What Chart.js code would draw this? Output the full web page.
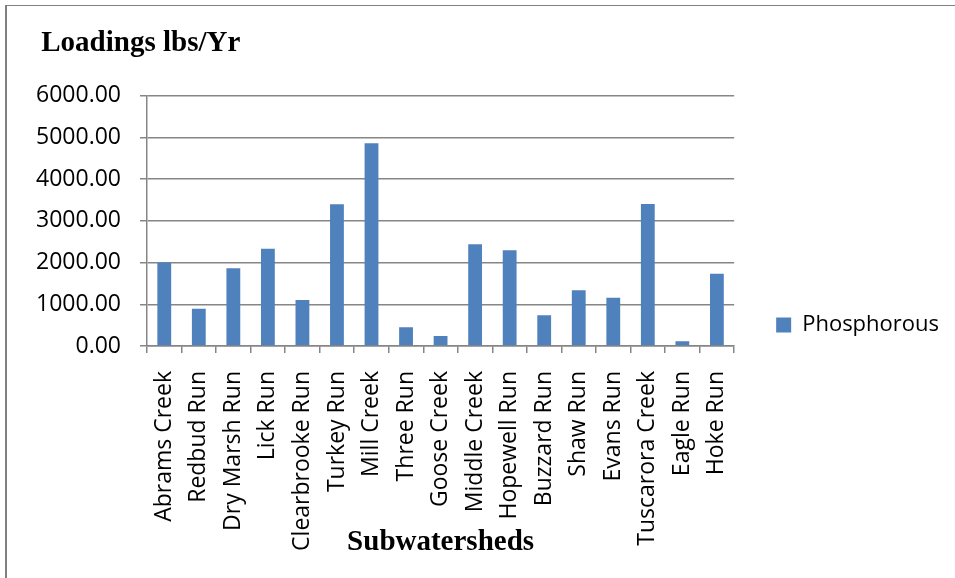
<!DOCTYPE html>
<html>
<head>
<meta charset="utf-8">
<script src="https://cdn.jsdelivr.net/npm/chart.js@4.4.1/dist/chart.umd.min.js"></script>
<style>
    body { margin: 0; background: #fff; }
    #wrap { position: relative; width: 955px; height: 578px; }
    #frame {
        position: absolute; left: 5px; top: 5px; right: 0; bottom: 0;
        border-top: 1px solid #808080; border-left: 2px solid #808080;
        pointer-events: none;
    }
</style>
</head>
<body>
<div id="wrap">
    <canvas id="graph" width="955" height="578"></canvas>
    <div id="frame"></div>
</div>
<script>
// Data
const subwatersheds = [
    "Abrams Creek", "Redbud Run", "Dry Marsh Run", "Lick Run", "Clearbrooke Run",
    "Turkey Run", "Mill Creek", "Three Run", "Goose Creek", "Middle Creek",
    "Hopewell Run", "Buzzard Run", "Shaw Run", "Evans Run", "Tuscarora Creek",
    "Eagle Run", "Hoke Run"
];
const phosphorous = [
    2000, 895, 1865, 2330, 1105,
    3400, 4860, 450, 240, 2440,
    2295, 735, 1335, 1160, 3405,
    115, 1730
];
const yTicks = [0, 1000, 2000, 3000, 4000, 5000, 6000];

const gridGray = '#868686';
const tickFont = { family: "'Open Sans'", size: 23 };
const legendFont = { family: "'Open Sans'", size: 22 };
const titleFont = { family: "'Liberation Serif'", size: 29, weight: 'bold' };

const ctx = document.getElementById('graph').getContext('2d');
new Chart(ctx, {
    type: 'bar',
    data: {
        labels: subwatersheds,
        datasets: [{
            label: 'Phosphorous',
            data: phosphorous,
            backgroundColor: '#4F81BD',
            borderWidth: 0,
            barPercentage: 0.4,
            categoryPercentage: 1.0
        }]
    },
    options: {
        responsive: false,
        animation: false,
        layout: {
            // y labels are clipped to the scale box, so keep the left edge wide
            padding: { left: 34, right: 6, top: 0, bottom: 0 }
        },
        scales: {
            x: {
                grid: {
                    display: true,
                    drawOnChartArea: false,
                    drawTicks: true,
                    tickLength: 7,
                    offset: true,
                    color: gridGray,
                    lineWidth: 1.5
                },
                border: { display: true, color: gridGray, width: 1.5 },
                ticks: {
                    autoSkip: false,
                    minRotation: 90,
                    maxRotation: 90,
                    padding: 18,
                    color: '#000',
                    font: tickFont
                },
                title: {
                    display: true,
                    text: 'Subwatersheds',
                    color: '#000',
                    font: titleFont,
                    padding: { top: 0, bottom: 18 }
                },
                afterFit: (scale) => { scale.height = 232; }
            },
            y: {
                min: 0,
                max: 6000,
                afterBuildTicks: (scale) => {
                    scale.ticks = yTicks.map(v => ({ value: v }));
                },
                grid: {
                    color: gridGray,
                    lineWidth: 1.5,
                    tickLength: 7
                },
                border: { display: true, color: gridGray, width: 1.5 },
                ticks: {
                    padding: 19,
                    color: '#000',
                    font: tickFont,
                    callback: (v) => Number(v).toFixed(2)
                },
                afterFit: (scale) => { scale.width = 113; }
            }
        },
        plugins: {
            title: {
                display: true,
                text: ' Loadings lbs/Yr',
                align: 'start',
                color: '#000',
                font: titleFont,
                padding: { top: 26, bottom: 35 }
            },
            legend: {
                position: 'right',
                align: 'center',
                fullSize: true,
                // empty title only pushes the single entry down a bit
                title: {
                    display: true,
                    text: '',
                    font: { size: 10 },
                    padding: { top: 60, bottom: 0 }
                },
                labels: {
                    boxWidth: 15,
                    boxHeight: 15,
                    padding: 42,
                    color: '#000',
                    font: legendFont
                }
            },
            tooltip: { enabled: false }
        }
    }
});
</script>
</body>
</html>
